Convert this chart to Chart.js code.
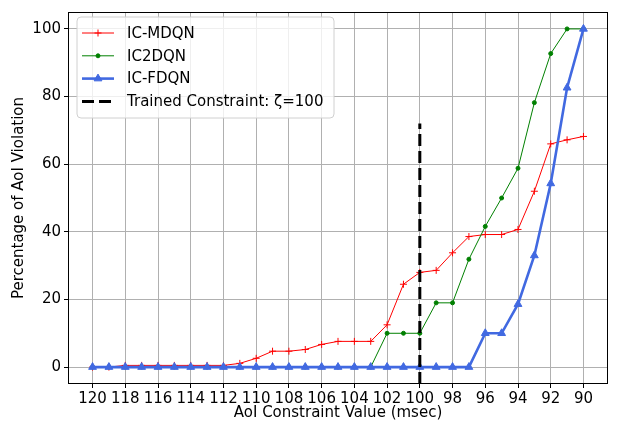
<!DOCTYPE html>
<html><head><meta charset="utf-8">
<script src="https://cdn.jsdelivr.net/npm/chart.js@4/dist/chart.umd.min.js"></script>
<style>html,body{margin:0;padding:0;background:#fff}#wrap{width:619px;height:425px;position:relative}</style>
</head><body><div id="wrap"><canvas id="c" width="619" height="425"></canvas></div>
<script>
// ---- data ----
const constraintValues = [120,119,118,117,116,115,114,113,112,111,110,109,108,107,106,105,104,103,102,101,100,99,98,97,96,95,94,93,92,91,90];
const icMdqn = [0,0,0.5,0.5,0.5,0.5,0.5,0.5,0.5,1.1,2.6,4.7,4.7,5.2,6.7,7.6,7.6,7.6,12.5,24.5,28,28.6,33.8,38.6,39.2,39.2,40.7,52,66,67.2,68.2];
const ic2dqn = [0,0,0,0,0,0,0,0,0,0,0,0,0,0,0,0,0,0,10,10,10,19,19,31.9,41.6,50,58.8,78.2,92.7,100,100];
const icFdqn = [0,0,0,0,0,0,0,0,0,0,0,0,0,0,0,0,0,0,0,0,0,0,0,0,10,10,18.6,33,54.3,82.6,100];
const xTickLabels = [120,118,116,114,112,110,108,106,104,102,100,98,96,94,92,90];
const yTickLabels = [0,20,40,60,80,100];
const trainedConstraint = 100;
const trainedLineY = [-5, 72];
const seriesNames = ['IC-MDQN','IC2DQN','IC-FDQN','Trained Constraint: ζ=100'];

const FONT = 'DejaVu Sans';
const toPts = (ys) => constraintValues.map((x, i) => ({x, y: ys[i]}));

const frameAndLegend = {
  id: 'frameAndLegend',
  afterDatasetsDraw(chart) {
    const {ctx, chartArea: a} = chart;
    ctx.save();
    ctx.strokeStyle = '#000';
    ctx.lineWidth = 1;
    ctx.strokeRect(Math.round(a.left) + 0.5, Math.round(a.top) + 0.5, Math.round(a.right - a.left) - 1, Math.round(a.bottom - a.top) - 1);
    ctx.restore();
  },
  afterDraw(chart) {
    const {ctx, chartArea: a} = chart;
    const bx = a.left + 9, by = a.top + 5, bw = 257, bh = 101, r = 4;
    ctx.save();
    ctx.beginPath();
    ctx.moveTo(bx + r, by);
    ctx.arcTo(bx + bw, by, bx + bw, by + bh, r);
    ctx.arcTo(bx + bw, by + bh, bx, by + bh, r);
    ctx.arcTo(bx, by + bh, bx, by, r);
    ctx.arcTo(bx, by, bx + bw, by, r);
    ctx.closePath();
    ctx.fillStyle = 'rgba(255,255,255,0.8)';
    ctx.fill();
    ctx.strokeStyle = '#d0d0d0';
    ctx.lineWidth = 1;
    ctx.stroke();
    const ds = chart.data.datasets;
    const x0 = bx + 5, x1 = bx + 37, xm = (x0 + x1) / 2, tx = bx + 50;
    ctx.font = '15px "' + FONT + '"';
    ctx.textBaseline = 'middle';
    ds.forEach((d, i) => {
      const y = by + 16 + i * 22.8;
      ctx.beginPath();
      ctx.setLineDash(d.borderDash || []);
      ctx.strokeStyle = d.borderColor;
      ctx.lineWidth = d.borderWidth;
      ctx.moveTo(x0, y); ctx.lineTo(x1, y); ctx.stroke();
      ctx.setLineDash([]);
      const ps = d.pointStyle, pr = d.pointRadius;
      if (pr > 0) {
        ctx.fillStyle = d.pointBackgroundColor;
        ctx.strokeStyle = d.pointBorderColor;
        ctx.lineWidth = d.pointBorderWidth;
        ctx.beginPath();
        if (ps === 'cross') {
          ctx.moveTo(xm - pr, y); ctx.lineTo(xm + pr, y);
          ctx.moveTo(xm, y - pr); ctx.lineTo(xm, y + pr);
          ctx.stroke();
        } else if (ps === 'triangle') {
          for (let k = 0; k < 3; k++) {
            const ang = k * 2 * Math.PI / 3;
            const px = xm + Math.sin(ang) * pr, py = y - Math.cos(ang) * pr;
            k ? ctx.lineTo(px, py) : ctx.moveTo(px, py);
          }
          ctx.closePath(); ctx.fill(); ctx.stroke();
        } else {
          ctx.arc(xm, y, pr, 0, Math.PI * 2); ctx.fill(); ctx.stroke();
        }
      }
      ctx.fillStyle = '#000';
      ctx.fillText(d.label, tx, y + 1);
    });
    ctx.restore();
  }
};

new Chart(document.getElementById('c'), {
  type: 'line',
  data: {
    datasets: [
      {label: seriesNames[0], data: toPts(icMdqn), borderColor: '#ff0000', borderWidth: 1,
       pointStyle: 'cross', pointRadius: 3.5, pointBorderColor: '#ff0000', pointBackgroundColor: '#ff0000', pointBorderWidth: 1, order: 4},
      {label: seriesNames[1], data: toPts(ic2dqn), borderColor: '#008000', borderWidth: 1,
       pointStyle: 'circle', pointRadius: 2, pointBorderColor: '#008000', pointBackgroundColor: '#008000', pointBorderWidth: 1, order: 3},
      {label: seriesNames[2], data: toPts(icFdqn), borderColor: '#4169e1', borderWidth: 2.6,
       pointStyle: 'triangle', pointRadius: 4.5, pointBorderColor: '#4169e1', pointBackgroundColor: '#4169e1', pointBorderWidth: 1, order: 2},
      {label: seriesNames[3], data: trainedLineY.map(y => ({x: trainedConstraint, y})), borderColor: '#000', borderWidth: 3,
       borderDash: [12, 5], pointRadius: 0, pointStyle: 'line', pointBackgroundColor: '#000', pointBorderColor: '#000', pointBorderWidth: 0, order: 1}
    ]
  },
  options: {
    responsive: false, animation: false, devicePixelRatio: 1,
    layout: {padding: {left: 0, top: 10, right: 11, bottom: 0}},
    plugins: {legend: {display: false}, tooltip: {enabled: false}},
    elements: {line: {tension: 0}},
    scales: {
      x: {
        type: 'linear', reverse: true, min: 88.5, max: 121.5,
        afterBuildTicks: (s) => { s.ticks = xTickLabels.map(v => ({value: v})); },
        afterFit: (s) => { s.height = 41; },
        grid: {color: '#b0b0b0', lineWidth: 1, tickColor: '#000', tickLength: 4, drawTicks: true},
        border: {display: false},
        ticks: {color: '#000', font: {family: FONT, size: 15}, padding: 2, maxRotation: 0, autoSkip: false},
        title: {display: true, text: 'AoI Constraint Value (msec)', color: '#000', font: {family: FONT, size: 15}, padding: {top: 0, bottom: 3}}
      },
      y: {
        type: 'linear', min: -5, max: 105,
        afterBuildTicks: (s) => { s.ticks = yTickLabels.map(v => ({value: v})); },
        afterFit: (s) => { s.width = 68; },
        grid: {color: '#b0b0b0', lineWidth: 1, tickColor: '#000', tickLength: 4, drawTicks: true},
        border: {display: false},
        ticks: {color: '#000', font: {family: FONT, size: 15}, padding: 3},
        title: {display: true, text: 'Percentage of AoI Violation', color: '#000', font: {family: FONT, size: 15}, padding: {top: 10, bottom: 0}}
      }
    }
  },
  plugins: [frameAndLegend]
});
</script></body></html>
